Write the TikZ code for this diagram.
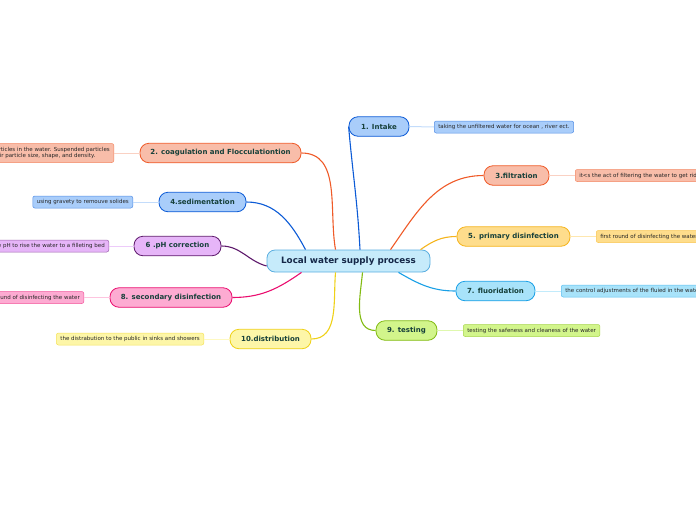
\documentclass[tikz,border=0pt]{standalone}
\usepackage{fontspec}
\setmainfont{DejaVu Sans}
\definecolor{bluF}{HTML}{A9CDFA}\definecolor{bluD}{HTML}{0C5BD6}
\definecolor{orgF}{HTML}{F8BDA9}\definecolor{orgD}{HTML}{EF5A28}
\definecolor{yelF}{HTML}{FEDD8C}\definecolor{yelD}{HTML}{F5B41D}
\definecolor{cyaF}{HTML}{A8E3FA}\definecolor{cyaD}{HTML}{1AA0E6}
\definecolor{grnF}{HTML}{D2F58B}\definecolor{grnD}{HTML}{82BB13}
\definecolor{purF}{HTML}{E6B5F8}\definecolor{purD}{HTML}{5E1A6C}
\definecolor{pnkF}{HTML}{FDABD2}\definecolor{pnkD}{HTML}{EA0E6F}
\definecolor{lyeF}{HTML}{FDF6A8}\definecolor{lyeD}{HTML}{EFD118}
\definecolor{cenF}{HTML}{C6EBFB}\definecolor{cenD}{HTML}{5AAEE0}
\definecolor{topT}{HTML}{16403A}\definecolor{cenT}{HTML}{152848}
\tikzset{
  central/.style={draw=cenD,fill=cenF,line width=0.8pt,rounded corners=8pt,minimum width=163pt,minimum height=22pt,inner sep=0pt,font=\bfseries\fontsize{8.8}{10}\selectfont,text=cenT},
  topic/.style={draw=#1D,fill=#1F,line width=0.8pt,rounded corners=9pt,minimum height=19.5pt,inner sep=0pt,font=\bfseries\fontsize{7}{8}\selectfont,text=topT},
  detail/.style={draw=#1D!55!#1F,fill=#1F,line width=0.5pt,rounded corners=2pt,minimum height=12pt,inner xsep=4pt,inner ysep=0pt,font=\fontsize{5.5}{6.5}\selectfont,text=black!85},
  branch/.style={draw=#1D,line width=1.1pt},
  twig/.style={draw=#1F!70!white,line width=1pt},
}
\begin{document}
\begin{tikzpicture}[x=1pt,y=-1pt]
\useasboundingbox (0,0) rectangle (696,520);
\clip (0,0) rectangle (696,520);
% central
\node[central] (c) at (348.5,261) {Local water supply process};
% topics
\node[topic=blu,minimum width=60pt] (t1) at (379,126.5) {1. Intake};
\node[topic=org,minimum width=161pt] (t2) at (220.5,153) {2. coagulation and Flocculationtion};
\node[topic=org,minimum width=65pt] (t3) at (516.5,175.5) {3.filtration};
\node[topic=blu,minimum width=87pt] (t4) at (202.5,202) {4.sedimentation};
\node[topic=yel,minimum width=113pt] (t5) at (513.5,236.5) {5. primary disinfection};
\node[topic=pur,minimum width=87pt] (t6) at (177.5,246) {6 .pH correction};
\node[topic=cya,minimum width=79pt] (t7) at (495.5,291) {7. fluoridation};
\node[topic=pnk,minimum width=122pt] (t8) at (171,297.5) {8. secondary disinfection};
\node[topic=grn,minimum width=61pt] (t9) at (406.5,330.5) {9. testing};
\node[topic=lye,minimum width=81pt] (t10) at (270.5,339) {10.distribution};
% details
\node[detail=blu,anchor=west] (d1) at (434,127) {taking the unfiltered water for ocean , river ect.};
\node[detail=org,anchor=east,minimum height=19pt,align=left] (d2) at (114,153) {Coagulation removes dirt and other particles  in the water. Suspended particles\\They vary in source, charge, and in their particle size, shape, and density.};
\node[detail=org,anchor=west] (d3) at (575,175.5) {it<s the act of filtering the water to get rid of the particles};
\node[detail=blu,anchor=east] (d4) at (133,202) {using gravety to remouve solides};
\node[detail=yel,anchor=west] (d5) at (596,236.5) {first round of disinfecting the water};
\node[detail=pur,anchor=east] (d6) at (109,246) {adjusting the pH to rise the water to a filleting bed};
\node[detail=cya,anchor=west] (d7) at (561,291) {the control adjustments of the fluied in the water};
\node[detail=pnk,anchor=east] (d8) at (84,297.5) {second round of disinfecting the water};
\node[detail=grn,anchor=west] (d9) at (463,330.5) {testing the safeness and cleaness of the water};
\node[detail=lye,anchor=east] (d10) at (204,339) {the distrabution to the public in sinks and showers};
% branches
\path[branch=blu] ([xshift=11.5pt]c.north) to[out=93,in=-85] (t1.west);
\path[branch=org] ([xshift=-13pt]c.north) to[out=100,in=0] (t2.east);
\path[branch=org] ([xshift=42pt]c.north) to[out=55,in=180] (t3.west);
\path[branch=blu] ([xshift=-43pt]c.north) to[out=118,in=0] (t4.east);
\path[branch=yel] ([xshift=72pt]c.north) to[out=35,in=180] (t5.west);
\path[branch=pur] ([yshift=-5pt]c.west) to[out=165,in=0] (t6.east);
\path[branch=cya] ([xshift=50pt]c.south) to[out=-30,in=180] (t7.west);
\path[branch=pnk] ([xshift=-47pt]c.south) to[out=-145,in=0] (t8.east);
\path[branch=grn] ([xshift=14pt]c.south) to[out=-95,in=180] (t9.west);
\path[branch=lye] ([xshift=-13pt]c.south) to[out=-95,in=0] (t10.east);
% twigs
\path[twig=blu] (t1.east) -- (d1.west);
\path[twig=org] (t2.west) -- (d2.east);
\path[twig=org] (t3.east) -- (d3.west);
\path[twig=blu] (t4.west) -- (d4.east);
\path[twig=yel] (t5.east) -- (d5.west);
\path[twig=pur] (t6.west) -- (d6.east);
\path[twig=cya] (t7.east) -- (d7.west);
\path[twig=pnk] (t8.west) -- (d8.east);
\path[twig=grn] (t9.east) -- (d9.west);
\path[twig=lye] (t10.west) -- (d10.east);
\end{tikzpicture}
\end{document}
